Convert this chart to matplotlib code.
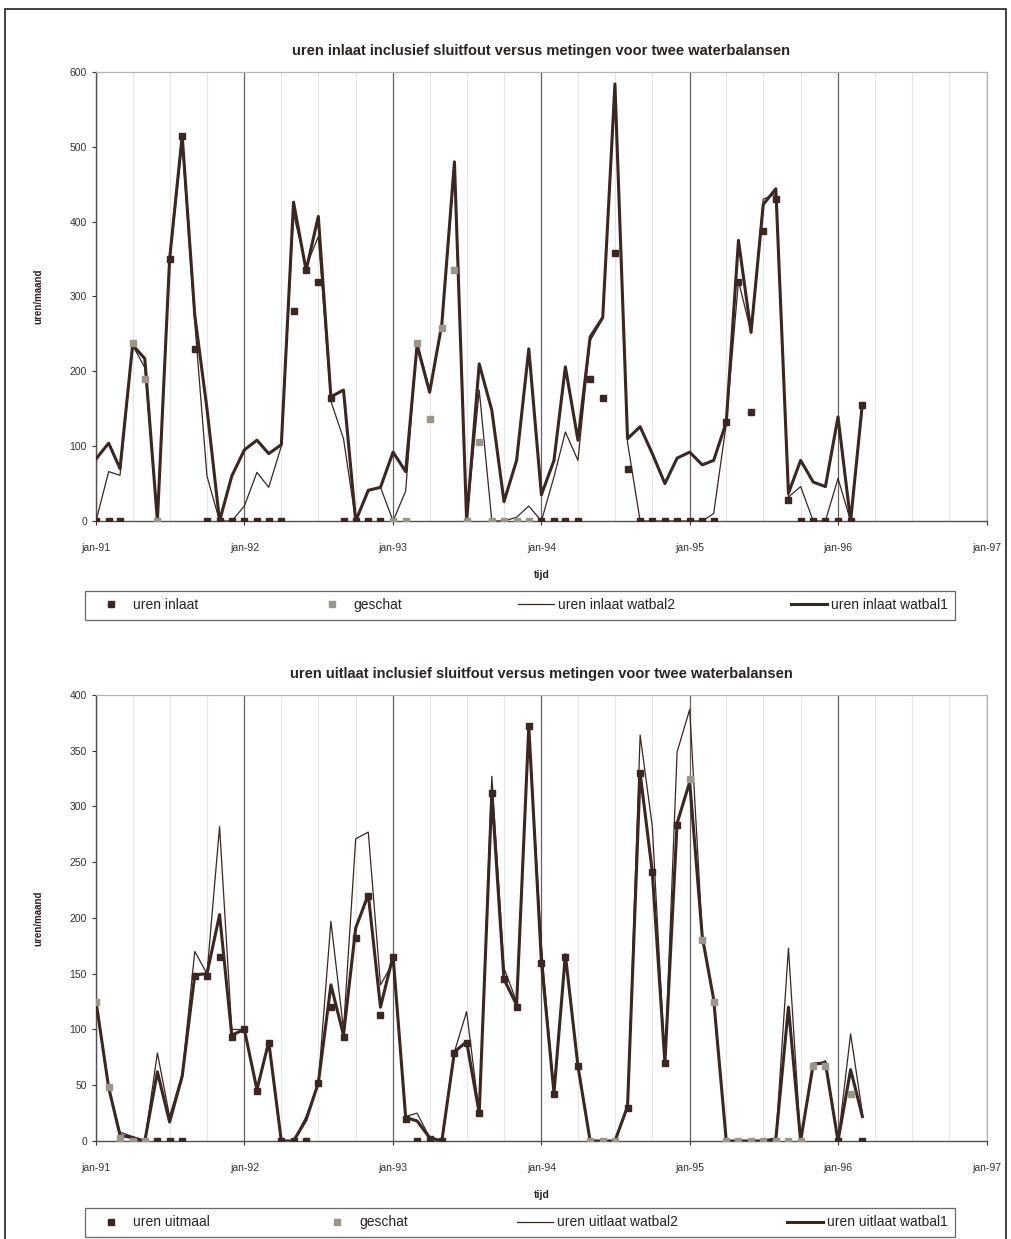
import matplotlib
matplotlib.use("Agg")
import matplotlib.pyplot as plt
import matplotlib.dates as mdates
from matplotlib.patches import Rectangle
import numpy as np
import pandas as pd

# maanden jan-91 t/m mrt-96
maanden = pd.date_range("1991-01-01", periods=63, freq="MS")
jaar_ticks = pd.date_range("1991-01-01", "1997-01-01", freq="YS")
jaar_labels = ["jan-91", "jan-92", "jan-93", "jan-94", "jan-95", "jan-96", "jan-97"]

# ---- inlaat ----
inlaat_watbal1 = [83, 104, 70, 235, 217, 0, 350, 515, 275, 150, 0, 60, 95, 108, 90, 102,
                  426, 335, 407, 166, 175, 0, 41, 45, 92, 66, 235, 172, 263, 480, 0, 210,
                  148, 26, 81, 230, 35, 81, 206, 108, 246, 272, 584, 110, 126, 90, 50, 84,
                  92, 75, 81, 132, 375, 252, 423, 444, 37, 81, 52, 46, 139, 0, 157]
inlaat_watbal2 = [0, 66, 61, 235, 205, 0, 345, 505, 265, 60, 0, 0, 20, 65, 45, 100,
                  410, 340, 380, 160, 110, 0, 40, 45, 0, 40, 240, 175, 263, 470, 0, 175,
                  0, 0, 5, 20, 0, 59, 119, 81, 241, 270, 581, 105, 0, 0, 0, 0,
                  0, 0, 10, 130, 321, 252, 430, 437, 32, 46, 0, 0, 57, 0, 157]
inlaat_meting_idx = [0, 1, 2, 6, 7, 8, 9, 10, 11, 12, 13, 14, 15, 16, 17, 18, 19, 20, 21, 22, 23,
                     36, 37, 38, 39, 40, 41, 42, 43, 44, 45, 46, 47, 48, 49, 50, 51, 52, 53, 54,
                     55, 56, 57, 58, 59, 60, 61, 62]
inlaat_meting = [0, 0, 0, 350, 515, 230, 0, 0, 0, 0, 0, 0, 0, 280, 335, 320, 165, 0, 0, 0, 0,
                 0, 0, 0, 0, 190, 165, 358, 70, 0, 0, 0, 0, 0, 0, 0, 132, 320, 145, 388,
                 430, 28, 0, 0, 0, 0, 0, 155]
inlaat_geschat_idx = [3, 4, 5, 24, 25, 26, 27, 28, 29, 30, 31, 32, 33, 34, 35]
inlaat_geschat = [238, 190, 0, 0, 0, 238, 136, 258, 336, 0, 105, 0, 0, 0, 0]

# ---- uitlaat ----
uitlaat_watbal1 = [125, 48, 5, 3, 0, 62, 17, 58, 149, 150, 203, 95, 100, 46, 89, 0,
                   0, 19, 52, 140, 95, 191, 221, 120, 166, 21, 18, 3, 0, 80, 89, 25,
                   312, 145, 122, 372, 161, 43, 167, 67, 0, 0, 0, 31, 330, 241, 70, 285,
                   322, 183, 127, 0, 0, 0, 0, 2, 120, 0, 69, 70, 0, 64, 22]
uitlaat_watbal2 = [125, 48, 8, 4, 0, 79, 22, 60, 170, 150, 282, 100, 100, 46, 89, 0,
                   0, 22, 52, 197, 100, 271, 277, 140, 160, 22, 25, 3, 0, 80, 116, 25,
                   327, 155, 125, 372, 175, 43, 167, 67, 0, 0, 0, 31, 364, 282, 70, 349,
                   387, 185, 127, 0, 0, 0, 0, 2, 173, 0, 67, 72, 0, 96, 25]
uitmaal_meting_idx = [5, 6, 7, 8, 9, 10, 11, 12, 13, 14, 15, 16, 17, 18, 19, 20, 21, 22, 23, 24,
                      25, 26, 27, 28, 29, 30, 31, 32, 33, 34, 35, 36, 37, 38, 39, 43, 44, 45,
                      46, 47, 60, 62]
uitmaal_meting = [0, 0, 0, 148, 148, 165, 93, 100, 45, 88, 0, 0, 0, 52, 120, 93, 182, 220, 113, 165,
                  20, 0, 2, 0, 79, 88, 25, 312, 145, 120, 372, 160, 42, 165, 67, 30, 330, 241,
                  70, 283, 0, 0]
uitlaat_geschat_idx = [0, 1, 2, 3, 4, 40, 41, 42, 48, 49, 50, 51, 52, 53, 54, 55, 56, 57, 58, 59, 61]
uitlaat_geschat = [125, 48, 3, 0, 0, 0, 0, 0, 325, 180, 125, 0, 0, 0, 0, 0, 0, 0, 67, 67, 42]

FONT = ["Liberation Sans Narrow", "Liberation Sans", "DejaVu Sans"]
plt.rcParams["font.family"] = FONT

LIJN = "#3a2622"
GRIJS = "#9a968c"

fig = plt.figure(figsize=(10.11, 12.39), dpi=100)


def paneel(rect, titel, w1, w2, m_idx, m_val, g_idx, g_val, ymax, ystep, labels, leg_rect):
    ax = fig.add_axes(rect)
    ax.plot(maanden, w2, color=LIJN, lw=0.9, zorder=3, label=labels[2])
    ax.plot(maanden, w1, color=LIJN, lw=2.2, zorder=4, label=labels[3])
    ax.plot(maanden[m_idx], m_val, ls="none", marker="s", ms=5.0, color=LIJN,
            zorder=5, label=labels[0])
    ax.plot(maanden[g_idx], g_val, ls="none", marker="s", ms=4.2, color=GRIJS,
            zorder=5, label=labels[1])

    ax.set_xlim(jaar_ticks[0], jaar_ticks[-1])
    ax.set_ylim(0, ymax)
    ax.set_xticks(jaar_ticks)
    ax.set_xticklabels(jaar_labels)
    ax.set_yticks(np.arange(0, ymax + 1, ystep))
    ax.xaxis.set_minor_locator(mdates.MonthLocator(bymonth=[4, 7, 10]))
    ax.grid(axis="x", which="major", color="#6a6460", lw=0.9)
    ax.grid(axis="x", which="minor", color="#e8e6e2", lw=0.8)
    ax.tick_params(axis="both", which="major", labelsize=7.5, length=3, width=0.8,
                   colors="#333333")
    ax.tick_params(axis="x", which="minor", length=0)
    ax.tick_params(axis="x", pad=13)
    for s in ["left", "bottom"]:
        ax.spines[s].set_color("#555050")
        ax.spines[s].set_linewidth(1.0)
    for s in ["top", "right"]:
        ax.spines[s].set_color("#b8b4b0")
        ax.spines[s].set_linewidth(0.9)

    ax.set_title(titel, fontsize=10.5, fontweight="bold", family="Liberation Sans",
                 color="#2a2220", pad=12)
    ax.set_xlabel("tijd", fontsize=7.5, fontweight="bold", labelpad=12, color="#2a2220")
    ax.set_ylabel("uren/maand", fontsize=7, fontweight="bold", labelpad=19, color="#2a2220")

    h, l = ax.get_legend_handles_labels()
    order = [2, 3, 0, 1]
    leg = fig.legend([h[i] for i in order], [l[i] for i in order], ncol=4,
                     loc="lower left", bbox_to_anchor=leg_rect, mode="expand",
                     fontsize=10, frameon=True, fancybox=False, edgecolor="#444444",
                     handlelength=2.6, borderaxespad=0, handletextpad=0.3,
                     borderpad=0.55)
    leg.get_frame().set_linewidth(0.9)
    for t in leg.get_texts():
        t.set_color("#2a2220")
    return ax


paneel([0.095, 0.5795, 0.881, 0.3624],
       "uren inlaat inclusief sluitfout versus metingen voor twee waterbalansen",
       inlaat_watbal1, inlaat_watbal2, inlaat_meting_idx, inlaat_meting,
       inlaat_geschat_idx, inlaat_geschat, 600, 100,
       ["uren inlaat", "geschat", "uren inlaat watbal2", "uren inlaat watbal1"],
       (0.084, 0.4996, 0.861, 0.031))

paneel([0.095, 0.0791, 0.881, 0.36],
       "uren uitlaat inclusief sluitfout versus metingen voor twee waterbalansen",
       uitlaat_watbal1, uitlaat_watbal2, uitmaal_meting_idx, uitmaal_meting,
       uitlaat_geschat_idx, uitlaat_geschat, 400, 50,
       ["uren uitmaal", "geschat", "uren uitlaat watbal2", "uren uitlaat watbal1"],
       (0.084, 0.0016, 0.861, 0.029))

# kader rond de hele figuur
fig.patches.append(Rectangle((0.005, -0.01), 0.99, 1.003, transform=fig.transFigure,
                             fill=False, edgecolor="#333333", lw=1.3))

fig.savefig("out.png", dpi=100)
